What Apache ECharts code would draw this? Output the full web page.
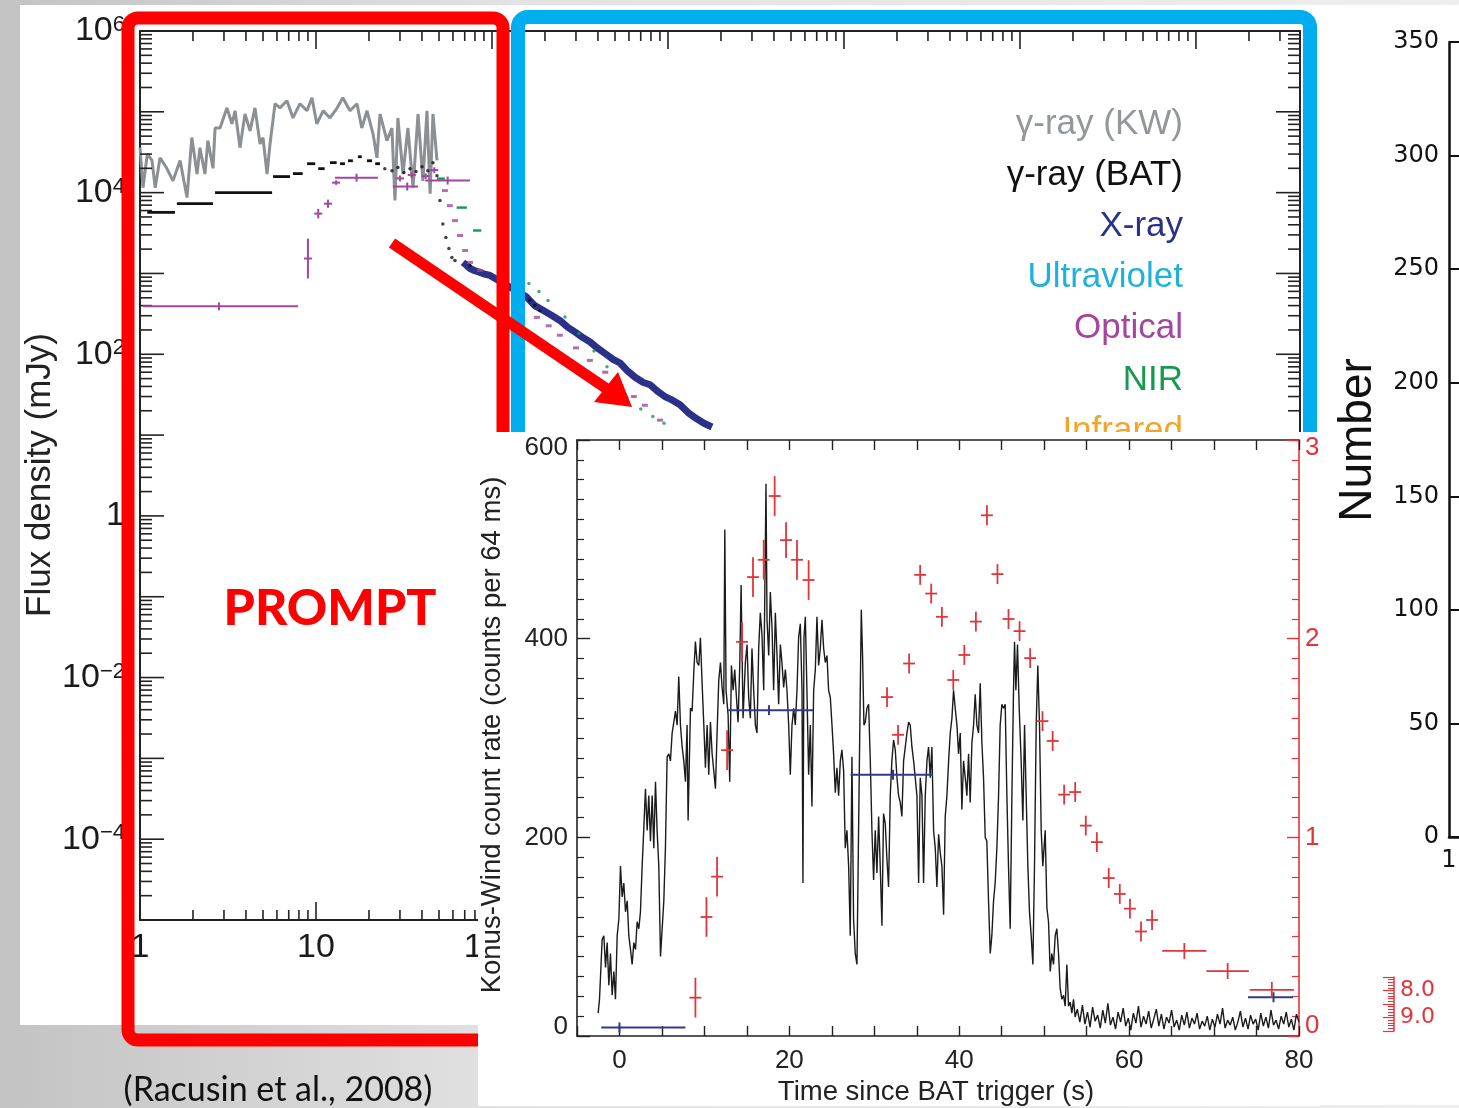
<!DOCTYPE html>
<html>
<head>
<meta charset="utf-8">
<script src="https://cdn.jsdelivr.net/npm/echarts@6/dist/echarts.min.js"></script>
<style>
  html, body { margin: 0; padding: 0; background: #ffffff; }
  #c { width: 1459px; height: 1108px; }
</style>
</head>
<body>
<div id="c"></div>
<script>
// ---------- Multi-band light curve (flux density vs time since trigger, log-log) ----------
const fluxTimeMin = 1;
const fluxTimeMax = 3.9e6;
const fluxMin = 1e-5;
const fluxMax = 1e6;

// gamma-ray (Konus-Wind), [t (s), flux density (mJy)]
const kwFlux = [[1.00,36000],[1.04,11500],[1.10,30000],[1.17,25000],[1.22,11500],[1.30,27000],[1.42,20000],[1.54,14000],[1.69,25000],[1.85,8700],[1.97,48000],[2.11,17000],[2.19,36000],[2.34,17000],[2.43,44000],[2.60,20000],[2.67,63000],[2.85,63000],[3.12,112000],[3.33,71000],[3.47,103000],[3.70,36000],[3.95,94000],[4.22,58000],[4.50,112000],[4.81,40000],[5.00,48000],[5.27,17000],[5.48,40000],[5.85,126000],[6.24,112000],[6.84,137000],[7.40,84000],[8.11,126000],[8.89,103000],[9.49,149000],[10.1,71000],[11.0,103000],[12.0,84000],[13.2,112000],[14.2,149000],[15.6,103000],[17.1,126000],[18.2,63000],[19.5,103000],[21.1,53000],[22.2,27000],[23.1,94000],[25.3,44000],[27.0,63000],[28.1,8000],[29.2,84000],[31.2,17000],[33.3,63000],[35.6,11500],[38.0,94000],[40.5,14000],[42.7,103000],[44.5,9700],[46.2,94000],[48.7,25000]];

// gamma-ray (BAT) time bins, [t start, t end, flux]
const batSteps = [[1.10,1.58,5700],[1.62,2.60,7300],[2.67,5.63,10000],[5.70,7.12,15800],[7.4,8.4,17200],[8.9,9.9,22800],[10.3,11.2,19800],[12.0,13.1,23500],[13.7,14.6,22800],[15.2,16.2,24800],[17.3,18.2,27800],[19.5,20.8,24800],[21.7,23.1,22800]];
const batPoints = [[24.6,19800],[27.0,18700],[29.2,20400],[31.6,17700],[34.2,19800],[37.0,18200],[40.0,20900],[43.2,18700],[46.2,23500],[48.7,16200],[50.6,8000],[52.6,4100],[54.7,2780],[56.9,2040],[59.2,1580],[61.6,1450],[75,1255],[144,566],[164,465],[175,403],[187,349]];

// X-ray
const xrayFlux = [[68.4,1370],[72,1250],[75,1150],[80,1080],[85.5,1030],[91,980],[97.5,944],[156,520],[175,400],[195,350],[220,300],[243,262],[270,215],[300,185],[330,160],[361,142],[400,118],[445,100],[490,86],[534,78],[590,62],[650,52],[720,45],[790,42],[870,35],[960,30],[1060,27],[1170,23.7],[1300,19],[1450,16],[1600,14],[1778,12.6]];

// Optical: long bins [t start, t end, flux, t centre], points with errors [t, flux, low, high], later points
const opticalSteps = [[1.04,7.9,392,2.81],[12.8,22.5,15300,17.0],[27.3,38.0,11900,33.0],[41.7,75.0,14100,56.0]];
const opticalCrosses = [[9.0,1530,867,2700],[10.3,5500,4800,6300],[11.7,7300,6500,8200],[13.0,13300,12500,14200],[30.0,15000,13800,16300],[35.0,16500,15200,17900],[42.0,16000,14800,17300],[47.0,19000,17500,20600]];
const opticalPoints = [[54.0,10600],[57.6,6900],[61.6,4500],[65.8,2950],[70.4,1920],[75.0,1370],[85.5,1090],[180,286],[210,225],[243,172],[300,120],[360,84],[440,60],[534,41],[640,30],[739,23.4],[901,15.3]];

// NIR
const nirSteps = [[48.7,54,14900],[63,72,6530],[78,87,3400]];
const nirPoints = [[162,753],[185,600],[208,464],[260,290],[312,181],[380,110],[450,70],[520,45],[585,29],[700,21],[820,17],[949,14]];

const bandNames = ['γ-ray (KW)', 'γ-ray (BAT)', 'X-ray', 'Ultraviolet', 'Optical', 'NIR', 'Infrared'];
const bandColors = ['#92979b', '#111111', '#2b3189', '#1fb1d9', '#a3469e', '#17994f', '#f0a52c'];

// ---------- Konus-Wind prompt emission (inset) ----------
// [time since BAT trigger (s), counts per 64 ms]
const konusRate = [
[-2.51,23],[-2.35,37],[-2.04,97],[-1.84,101],[-1.64,69],[-1.45,94],[-1.25,51],[-1.06,83],[-0.86,41],[-0.66,65],[-0.47,37],[-0.27,101],[-0.07,118],[0.12,171],[0.32,140],[0.51,154],[0.71,125],[0.91,136],[1.10,101],[1.30,87],[1.49,72],[1.69,94],[1.89,87],[2.08,115],[2.28,108],[2.47,125],[2.67,171],[2.87,210],[3.06,249],[3.26,207],[3.45,242],[3.65,196],[3.85,242],[4.04,189],[4.24,256],[4.43,207],[4.63,171],[4.83,80],[5.02,80],[5.22,136],[5.41,189],[5.61,281],[5.81,284],[6.00,277],[6.20,305],[6.40,316],[6.59,327],[6.79,313],[6.98,362],[7.18,313],[7.38,291],[7.57,277],[7.77,256],[7.96,313],[8.08,217],[8.36,330],[8.55,327],[8.75,366],[8.94,397],[9.14,376],[9.34,373],[9.53,401],[9.73,355],[9.93,313],[10.12,270],[10.32,313],[10.51,263],[10.71,316],[10.91,284],[11.10,267],[11.30,249],[11.49,305],[11.69,358],[11.89,376],[12.08,351],[12.28,334],[12.40,510],[12.55,348],[12.79,323],[12.98,256],[13.18,373],[13.38,348],[13.57,369],[13.77,341],[13.96,316],[14.16,373],[14.32,454],[14.55,320],
[14.82,376],[15.02,394],[15.21,341],[15.41,320],[15.60,390],[15.80,348],[16.00,313],[16.19,305],[16.39,390],[16.58,426],[16.78,404],[16.98,348],[17.09,429],[17.25,556],[17.37,419],[17.57,383],[17.76,447],[17.96,411],[18.15,348],[18.35,426],[18.55,383],[18.74,334],[18.94,394],[19.13,376],[19.33,351],[19.53,369],[19.72,348],[19.92,313],[20.11,263],[20.31,313],[20.51,330],[20.70,313],[20.90,348],[21.09,401],[21.29,415],[21.49,348],[21.60,154],[21.72,401],[21.88,422],[22.07,348],[22.27,263],[22.47,313],[22.66,231],[22.86,348],[23.06,369],[23.25,422],[23.45,373],[23.64,390],[23.84,419],[24.04,390],[24.23,376],[24.43,383],[24.62,348],[24.82,341],[25.02,313],[25.21,284],[25.41,245],[25.60,270],[25.80,242],[26.00,277],[26.19,288],[26.39,267],[26.58,189],[26.78,207],[26.98,171],[27.17,101],[27.37,281],[27.56,118],[27.76,83],[27.96,72],[28.15,207],[28.35,348],[28.47,429],[28.62,383],[28.78,313],[28.94,316],[29.13,330],[29.33,334],[29.53,277],[29.72,207],[29.92,157],[30.11,207],[30.31,164],[30.51,221],[30.70,171],[30.90,111],[31.09,224],[31.29,214],[31.49,178],[31.68,150],[31.88,242],[32.07,277],[32.27,298],
[32.47,288],[32.67,260],[32.86,242],[33.06,235],[33.25,221],[33.45,277],[33.65,291],[33.84,305],[34.04,316],[34.23,313],[34.43,291],[34.63,277],[34.82,260],[35.02,242],[35.22,154],[35.41,260],[35.61,242],[35.80,154],[36.00,242],[36.20,277],[36.39,291],[36.59,260],[36.78,291],[36.98,207],[37.18,189],[37.37,150],[37.57,203],[37.76,185],[37.96,171],[38.16,122],[38.35,221],[38.55,242],[38.75,277],[38.94,305],[39.14,320],[39.33,348],[39.53,330],[39.73,313],[39.92,284],[40.12,305],[40.31,228],[40.51,277],[40.71,260],[40.90,242],[41.10,284],[41.29,235],[41.49,295],[41.69,313],[41.88,344],[42.08,313],[42.27,305],[42.47,355],[42.67,295],[42.86,260],[43.06,200],[43.25,196],[43.45,136],[43.65,83],[43.84,101],[44.04,136],[44.23,154],[44.43,189],[44.63,242],[44.82,313],[45.02,334],[45.22,330],[45.41,334],[45.61,242],[45.80,171],[46.00,108],[46.20,242],[46.39,348],[46.51,397],[46.67,348],[46.86,394],[47.06,330],[47.29,277],[47.49,217],[47.69,313],[47.88,242],[48.08,171],[48.27,125],[48.47,101],[48.67,72],[48.86,171],[49.06,313],[49.25,373],[49.45,313],[49.65,207],[49.84,171],
[50.12,207],[50.32,129],[50.51,115],[50.71,65],[50.90,83],[51.10,72],[51.30,101],[51.49,108],[51.69,83],[51.88,48],[52.08,37],[52.28,41],[52.47,30],[52.67,72],[52.87,30],[53.06,34],[53.26,23],[53.45,37],[53.65,19],
[53.9,27],[54.2,14],[54.5,31],[54.8,12],[55.1,24],[55.4,9],[55.7,29],[56.0,15],[56.3,21],[56.6,8],[56.9,26],[57.2,13],[57.5,33],[57.8,11],[58.1,19],[58.4,7],[58.7,24],[59.0,14],[59.3,28],[59.6,10],[59.9,18],[60.2,6],[60.5,23],[60.8,13],[61.1,30],[61.4,9],[61.7,20],[62.0,12],[62.3,25],[62.6,8],[62.9,17],[63.2,27],[63.5,10],[63.8,22],[64.1,7],[64.4,19],[64.7,13],[65.0,26],[65.3,9],[65.6,16],[65.9,6],[66.2,21],[66.5,11],[66.8,24],[67.1,8],[67.4,18],[67.7,12],[68.0,23],[68.3,7],[68.6,15],[68.9,10],[69.2,20],[69.5,6],[69.8,17],[70.1,9],[70.4,22],[70.7,12],[71.0,28],[71.3,8],[71.6,16],[71.9,11],[72.2,19],[72.5,6],[72.8,14],[73.1,25],[73.4,9],[73.7,18],[74.0,7],[74.3,21],[74.6,12],[74.9,17],[75.2,6],[75.5,23],[75.8,10],[76.1,19],[76.4,8],[76.7,26],[77.0,11],[77.3,16],[77.6,7],[77.9,20],[78.2,12],[78.5,24],[78.8,9],[79.1,17],[79.4,6],[79.7,22],[80.0,14]
];

// Spectral-fit intervals on the count-rate axis: [t start, t end, level, t centre]
const konusIntervals = [[-2.15,7.76,8.6,0],[12.8,22.8,328,17.6],[27.2,36.9,263,32.2],[74.0,79.3,39,77.0]];

// Optical flux on the right axis: [t, value, half width (s), half height]
const opticalRate = [
[8.94,0.193,0.7,0.10],[10.24,0.599,0.7,0.10],[11.49,0.802,0.7,0.10],[12.67,1.439,0.7,0.10],[14.43,1.984,0.7,0.10],[15.72,2.310,0.7,0.10],[16.98,2.397,0.7,0.10],[18.27,2.718,0.7,0.10],[19.61,2.496,0.7,0.09],[20.90,2.397,0.7,0.10],[22.27,2.295,0.7,0.10],
[31.5,1.706,0.7,0.05],[32.8,1.516,0.7,0.05],[34.1,1.875,0.7,0.05],[35.4,2.321,0.7,0.05],[36.7,2.227,0.7,0.05],[37.96,2.110,0.7,0.05],[39.3,1.792,0.7,0.05],[40.6,1.918,0.7,0.05],[41.96,2.086,0.7,0.05],[43.26,2.621,0.7,0.05],[44.5,2.325,0.7,0.05],[45.8,2.099,0.7,0.05],[47.1,2.038,0.7,0.05],[48.35,1.902,0.7,0.05],[49.8,1.585,0.7,0.05],[51.0,1.485,0.7,0.05],[52.35,1.215,0.7,0.05],[53.65,1.228,0.7,0.05],[54.9,1.059,0.7,0.05],[56.2,0.976,0.7,0.05],[57.6,0.795,0.7,0.05],[58.9,0.715,0.7,0.05],[60.1,0.641,0.7,0.05],[61.4,0.526,0.7,0.05],[62.7,0.584,0.7,0.05],
[66.5,0.428,2.6,0.04],[71.6,0.327,2.5,0.04],[76.8,0.232,2.6,0.04]
];

const konusTickLabels = { 0: '0', 200: '200', 400: '400', 600: '600' };
const timeTickLabels = { 0: '0', 20: '20', 40: '40', 60: '60', 80: '80' };
const rightTickLabels = { 0: '0', 1: '1', 2: '2', 3: '3' };
const magTickLabels = { 8: '8.0', 9: '9.0' };

// Log-axis minor/major tick marks (value, kind: 0 = time, 1 = flux, major flag)
const logTicks = [];
for (let e = 0; e <= 6; e++) {
  for (let m = 1; m <= 9; m++) {
    const v = m * Math.pow(10, e);
    if (v <= fluxTimeMax) logTicks.push([v, 1, 0, m === 1 ? 1 : 0]);
  }
}
for (let e = -5; e <= 5; e++) {
  for (let m = 1; m <= 9; m++) logTicks.push([1, m * Math.pow(10, e), 1, m === 1 ? 1 : 0]);
}
logTicks.push([1, 1e6, 1, 1]);

const FONT = '"Liberation Sans", Arial, Helvetica, sans-serif';
const RED_AXIS = '#e0353b';

function powExponent(v) {
  const l = Math.log10(v);
  const e = Math.round(l);
  return Math.abs(l - e) < 1e-6 ? e : null;
}

function logTickItem(params, api) {
  const cs = params.coordSys;
  const kind = api.value(2);
  const major = api.value(3) === 1;
  const st = { stroke: '#222', lineWidth: 1.6 };
  if (kind === 0) {
    const x = api.coord([api.value(0), 1])[0];
    const L = major ? 18 : 10;
    return { type: 'group', children: [
      { type: 'line', shape: { x1: x, y1: cs.y + cs.height, x2: x, y2: cs.y + cs.height - L }, style: st },
      { type: 'line', shape: { x1: x, y1: cs.y, x2: x, y2: cs.y + L }, style: st }
    ] };
  }
  const y = api.coord([1, api.value(1)])[1];
  const L = major ? 24 : 12;
  return { type: 'group', children: [
    { type: 'line', shape: { x1: cs.x, y1: y, x2: cs.x + L, y2: y }, style: st },
    { type: 'line', shape: { x1: cs.x + cs.width, y1: y, x2: cs.x + cs.width - L, y2: y }, style: st }
  ] };
}

function stepItem(color, width, tick) {
  return function (params, api) {
    const a = api.coord([api.value(0), api.value(2)]);
    const b = api.coord([api.value(1), api.value(2)]);
    const children = [{ type: 'line', shape: { x1: a[0], y1: a[1], x2: b[0], y2: b[1] }, style: { stroke: color, lineWidth: width } }];
    if (tick) {
      const c = api.coord([api.value(3), api.value(2)]);
      children.push({ type: 'line', shape: { x1: c[0], y1: c[1] - tick, x2: c[0], y2: c[1] + tick }, style: { stroke: color, lineWidth: width } });
    }
    return { type: 'group', children: children };
  };
}

function fluxCrossItem(color) {
  return function (params, api) {
    const c = api.coord([api.value(0), api.value(1)]);
    const lo = api.coord([api.value(0), api.value(2)]);
    const hi = api.coord([api.value(0), api.value(3)]);
    return { type: 'group', children: [
      { type: 'line', shape: { x1: c[0] - 4, y1: c[1], x2: c[0] + 4, y2: c[1] }, style: { stroke: color, lineWidth: 2 } },
      { type: 'line', shape: { x1: c[0], y1: lo[1], x2: c[0], y2: hi[1] }, style: { stroke: color, lineWidth: 2 } }
    ] };
  };
}

function rateCrossItem(params, api) {
  const t = api.value(0), v = api.value(1), dt = api.value(2), dv = api.value(3);
  const l = api.coord([t - dt, v]), r = api.coord([t + dt, v]);
  const b = api.coord([t, v - dv]), u = api.coord([t, v + dv]);
  const st = { stroke: RED_AXIS, lineWidth: 1.8 };
  return { type: 'group', children: [
    { type: 'line', shape: { x1: l[0], y1: l[1], x2: r[0], y2: r[1] }, style: st },
    { type: 'line', shape: { x1: b[0], y1: b[1], x2: u[0], y2: u[1] }, style: st }
  ] };
}

function txt(x, y, text, font, fill, align, z, rotation) {
  return {
    type: 'text', x: x, y: y, z: z, rotation: rotation || 0,
    style: { text: text, font: font, fill: fill, textAlign: align, align: align, textVerticalAlign: 'middle', verticalAlign: 'middle' }
  };
}

const graphics = [
  { type: 'rect', z: -100, shape: { x: 0, y: 0, width: 1459, height: 1108 },
    style: { fill: { type: 'linear', x: 0, y: 0, x2: 1, y2: 0, colorStops: [
      { offset: 0, color: '#c3c3c3' }, { offset: 0.35, color: '#e2e2e2' }, { offset: 1, color: '#eeeeee' } ] } } },
  { type: 'rect', z: -90, shape: { x: 20, y: 5, width: 1300, height: 1020 }, style: { fill: '#ffffff' } },
  txt(40, 475, 'Flux density (mJy)', '35px ' + FONT, '#222222', 'center', -80, Math.PI / 2)
];
bandNames.forEach(function (name, i) {
  graphics.push(txt(1183, 124 + i * 51.2, name, '35px ' + FONT, bandColors[i], 'right', -80));
});
graphics.push(
  { type: 'rect', z: 9, shape: { x: 518, y: 17, width: 792, height: 600, r: 10 }, style: { fill: 'none', stroke: '#00aeef', lineWidth: 14 } },
  { type: 'rect', z: 10, shape: { x: 128, y: 18, width: 375, height: 1022, r: 10 }, style: { fill: 'none', stroke: '#ff0000', lineWidth: 13 } },
  { type: 'line', z: 11, shape: { x1: 392, y1: 243, x2: 607, y2: 389 }, style: { stroke: '#ff0000', lineWidth: 11 } },
  { type: 'polygon', z: 11, shape: { points: [[632, 407], [594, 402], [618, 372]] }, style: { fill: '#ff0000' } },
  txt(330, 609, 'PROMPT', '900 50px Lato, "Open Sans", sans-serif', '#ff0000', 'center', 12),
  txt(278, 1090, '(Racusin et al., 2008)', '34px Lato, "Open Sans", sans-serif', '#111111', 'center', 12),
  { type: 'rect', z: 20, shape: { x: 478, y: 432, width: 842, height: 674 }, style: { fill: '#ffffff' } },
  txt(492, 735, 'Konus-Wind count rate (counts per 64 ms)', '27.5px ' + FONT, '#222222', 'center', 25, Math.PI / 2),
  txt(936, 1092, 'Time since BAT trigger (s)', '27.5px ' + FONT, '#222222', 'center', 25),
  { type: 'rect', z: 30, shape: { x: 1320, y: 5, width: 139, height: 1100 }, style: { fill: '#ffffff' } },
  txt(1358, 440, 'Number', '46px ' + FONT, '#111111', 'center', 40, Math.PI / 2)
);

const blackAxis = { show: true, lineStyle: { color: '#222', width: 2 } };

const option = {
  animation: false,
  backgroundColor: 'transparent',
  textStyle: { fontFamily: FONT },
  grid: [
    { left: 140, top: 31, width: 1160, height: 889, containLabel: false, outerBoundsMode: 'none' },
    { left: 577, top: 440, width: 722, height: 596, containLabel: false, outerBoundsMode: 'none', z: 21 },
    { left: 1449, top: 42, width: 400, height: 795, containLabel: false, outerBoundsMode: 'none', z: 40 },
    { left: 1394, top: 977, width: 20, height: 54, containLabel: false, outerBoundsMode: 'none', z: 40 }
  ],
  xAxis: [
    { gridIndex: 0, type: 'log', logBase: 10, min: fluxTimeMin, max: fluxTimeMax, interval: 1, position: 'bottom',
      axisLine: blackAxis, axisTick: { show: false }, splitLine: { show: false },
      axisLabel: { margin: 11, color: '#1a1a1a', fontFamily: FONT,
        formatter: function (v) { const e = powExponent(v); if (e === null) return ''; if (e === 0) return '{b|1}'; if (e === 1) return '{b|10}'; if (e === 2) return '{b|100}'; return '{b|10}{s|' + e + '}'; },
        rich: { b: { fontSize: 34, fontFamily: FONT, color: '#1a1a1a' }, s: { fontSize: 22, fontFamily: FONT, verticalAlign: 'top', color: '#1a1a1a' } } } },
    { gridIndex: 0, type: 'log', logBase: 10, min: fluxTimeMin, max: fluxTimeMax, interval: 1, position: 'top',
      axisLine: blackAxis, axisTick: { show: false }, axisLabel: { show: false }, splitLine: { show: false } },
    { gridIndex: 1, type: 'value', min: -5, max: 80, interval: 5, position: 'bottom', z: 25,
      axisLine: { show: true, onZero: false, lineStyle: { color: '#222', width: 1.6 } },
      axisTick: { show: true, inside: true, length: 10, lineStyle: { color: '#222', width: 1.4 } },
      splitLine: { show: false },
      axisLabel: { margin: 12, fontSize: 26, color: '#222', fontFamily: FONT, formatter: function (v) { return timeTickLabels[v] || ''; } } },
    { gridIndex: 1, type: 'value', min: -5, max: 80, interval: 5, position: 'top', z: 25,
      axisLine: { show: true, onZero: false, lineStyle: { color: '#222', width: 1.6 } },
      axisTick: { show: true, inside: true, length: 10, lineStyle: { color: '#222', width: 1.4 } },
      axisLabel: { show: false }, splitLine: { show: false } },
    { gridIndex: 2, type: 'value', min: 1, max: 2, interval: 1, position: 'bottom', z: 40,
      axisLine: { show: true, onZero: false, lineStyle: { color: '#111', width: 2.5 } },
      axisTick: { show: false }, splitLine: { show: false },
      axisLabel: { margin: 12, fontSize: 24, color: '#111', fontFamily: '"DejaVu Sans", sans-serif', formatter: function (v) { return v === 1 ? '1' : ''; } } },
    { gridIndex: 3, type: 'value', min: 0, max: 1, show: false }
  ],
  yAxis: [
    { gridIndex: 0, type: 'log', logBase: 10, min: fluxMin, max: fluxMax, interval: 1, position: 'left',
      axisLine: blackAxis, axisTick: { show: false }, splitLine: { show: false },
      axisLabel: { margin: 15, color: '#1a1a1a', fontFamily: FONT,
        formatter: function (v) { const e = powExponent(v); if (e === null || e % 2 !== 0) return ''; if (e === 0) return '{b|1}'; return '{b|10}{s|' + (e < 0 ? '\u2212' + (-e) : e) + '}'; },
        rich: { b: { fontSize: 34, fontFamily: FONT, color: '#1a1a1a' }, s: { fontSize: 22, fontFamily: FONT, verticalAlign: 'top', color: '#1a1a1a' } } } },
    { gridIndex: 0, type: 'log', logBase: 10, min: fluxMin, max: fluxMax, interval: 1, position: 'right',
      axisLine: blackAxis, axisTick: { show: false }, axisLabel: { show: false }, splitLine: { show: false } },
    { gridIndex: 1, type: 'value', min: 0, max: 600, interval: 200, position: 'left', z: 25,
      axisLine: { show: true, onZero: false, lineStyle: { color: '#222', width: 1.6 } },
      axisTick: { show: true, inside: true, length: 13, lineStyle: { color: '#222', width: 1.4 } },
      minorTick: { show: true, splitNumber: 10, length: 7, lineStyle: { color: '#222', width: 1.2 } },
      splitLine: { show: false },
      axisLabel: { margin: 9, color: '#222', fontFamily: FONT,
        formatter: function (v) { const s = konusTickLabels[v]; if (s === undefined) return ''; if (v === 0) return '{lo|' + s + '}'; if (v === 600) return '{hi|' + s + '}'; return '{n|' + s + '}'; },
        rich: { n: { fontSize: 26, fontFamily: FONT, color: '#222' }, lo: { fontSize: 26, fontFamily: FONT, color: '#222', padding: [0, 0, 18, 0] }, hi: { fontSize: 26, fontFamily: FONT, color: '#222', padding: [16, 0, 0, 0] } } } },
    { gridIndex: 1, type: 'value', min: 0, max: 3, interval: 1, position: 'right', z: 25,
      axisLine: { show: true, onZero: false, lineStyle: { color: RED_AXIS, width: 1.6 } },
      axisTick: { show: true, inside: true, length: 12, lineStyle: { color: RED_AXIS, width: 1.4 } },
      minorTick: { show: true, splitNumber: 10, length: 7, lineStyle: { color: RED_AXIS, width: 1.2 } },
      splitLine: { show: false },
      axisLabel: { margin: 6, color: RED_AXIS, fontFamily: FONT,
        formatter: function (v) { const s = rightTickLabels[v]; if (s === undefined) return ''; if (v === 0) return '{lo|' + s + '}'; if (v === 3) return '{hi|' + s + '}'; return '{n|' + s + '}'; },
        rich: { n: { fontSize: 26, fontFamily: FONT, color: RED_AXIS }, lo: { fontSize: 26, fontFamily: FONT, color: RED_AXIS, padding: [0, 0, 20, 0] }, hi: { fontSize: 26, fontFamily: FONT, color: RED_AXIS, padding: [16, 0, 0, 0] } } } },
    { gridIndex: 2, type: 'value', min: 0, max: 350, interval: 50, position: 'left', z: 40,
      axisLine: { show: true, onZero: false, lineStyle: { color: '#111', width: 2.5 } },
      axisTick: { show: true, inside: true, length: 10, lineStyle: { color: '#111', width: 2 } },
      splitLine: { show: false },
      axisLabel: { margin: 10, fontSize: 24, color: '#111', fontFamily: '"DejaVu Sans", sans-serif' } },
    { gridIndex: 3, type: 'value', inverse: true, min: 7.5, max: 9.5, interval: 0.5, position: 'left', z: 40,
      axisLine: { show: true, onZero: false, lineStyle: { color: RED_AXIS, width: 1.5 } },
      axisTick: { show: true, inside: false, length: 11, lineStyle: { color: RED_AXIS, width: 1.2 } },
      minorTick: { show: true, splitNumber: 5, length: 6, lineStyle: { color: RED_AXIS, width: 1 } },
      splitLine: { show: false },
      axisLabel: { inside: true, margin: 6, fontSize: 22, color: RED_AXIS, fontFamily: '"DejaVu Sans", sans-serif',
        formatter: function (v) { return magTickLabels[v] || ''; } } }
  ],
  series: [
    { name: 'log ticks', type: 'custom', xAxisIndex: 0, yAxisIndex: 0, z: 3, silent: true,
      renderItem: logTickItem, data: logTicks, encode: { x: 0, y: 1 } },
    { name: bandNames[0], type: 'line', xAxisIndex: 0, yAxisIndex: 0, z: 2, data: kwFlux, showSymbol: false, symbol: 'none',
      lineStyle: { color: '#8b9094', width: 3 } },
    { name: bandNames[1], type: 'custom', xAxisIndex: 0, yAxisIndex: 0, z: 3, renderItem: stepItem(bandColors[1], 2.8, 0),
      data: batSteps, encode: { x: [0, 1], y: 2 } },
    { name: bandNames[1] + ' points', type: 'scatter', xAxisIndex: 0, yAxisIndex: 0, z: 3, data: batPoints,
      symbol: 'circle', symbolSize: 3.5, itemStyle: { color: bandColors[1] } },
    { name: bandNames[2], type: 'line', xAxisIndex: 0, yAxisIndex: 0, z: 3, data: xrayFlux, showSymbol: false, symbol: 'none',
      lineStyle: { color: bandColors[2], width: 7 } },
    { name: bandNames[4], type: 'custom', xAxisIndex: 0, yAxisIndex: 0, z: 4, renderItem: stepItem(bandColors[4], 2, 4),
      data: opticalSteps, encode: { x: [0, 1, 3], y: 2 } },
    { name: bandNames[4] + ' errors', type: 'custom', xAxisIndex: 0, yAxisIndex: 0, z: 4, renderItem: fluxCrossItem(bandColors[4]),
      data: opticalCrosses, encode: { x: 0, y: [1, 2, 3] } },
    { name: bandNames[4] + ' points', type: 'scatter', xAxisIndex: 0, yAxisIndex: 0, z: 4, data: opticalPoints,
      symbol: 'rect', symbolSize: [6, 3], itemStyle: { color: bandColors[4] } },
    { name: bandNames[5], type: 'custom', xAxisIndex: 0, yAxisIndex: 0, z: 4, renderItem: stepItem(bandColors[5], 2.4, 0),
      data: nirSteps, encode: { x: [0, 1], y: 2 } },
    { name: bandNames[5] + ' points', type: 'scatter', xAxisIndex: 0, yAxisIndex: 0, z: 4, data: nirPoints,
      symbol: 'circle', symbolSize: 3.5, itemStyle: { color: bandColors[5] } },

    { name: 'Konus-Wind', type: 'line', xAxisIndex: 2, yAxisIndex: 2, z: 26, data: konusRate, showSymbol: false, symbol: 'none',
      lineStyle: { color: '#1b1b1b', width: 1.4 } },
    { name: 'intervals', type: 'custom', xAxisIndex: 2, yAxisIndex: 2, z: 27, renderItem: stepItem('#2e3b8e', 2, 5),
      data: konusIntervals, encode: { x: [0, 1, 3], y: 2 } },
    { name: 'optical', type: 'custom', xAxisIndex: 2, yAxisIndex: 3, z: 28, renderItem: rateCrossItem,
      data: opticalRate, encode: { x: 0, y: 1 } }
  ],
  graphic: graphics
};

const chart = echarts.init(document.getElementById('c'), null, { renderer: 'canvas', width: 1459, height: 1108 });
chart.setOption(option);
</script>
</body>
</html>
